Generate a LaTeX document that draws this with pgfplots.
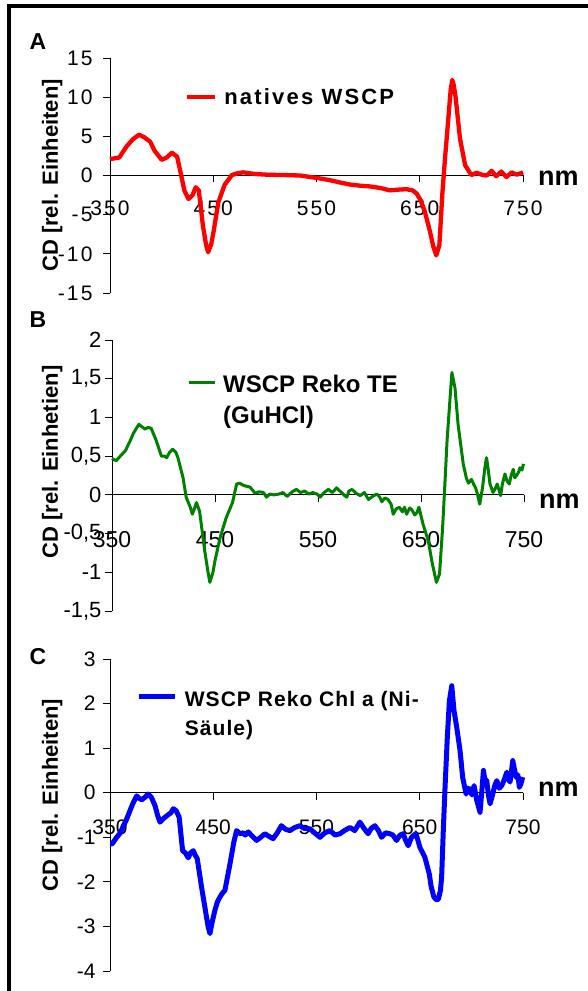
\documentclass[border=0pt]{standalone}
\usepackage{fontspec}
\setmainfont{Liberation Sans}
\newfontfamily\spacedA[LetterSpace=10]{Liberation Sans}
\newfontfamily\spacedC[LetterSpace=5]{Liberation Sans}
\usepackage{pgfplots}
\pgfplotsset{compat=1.18}
\definecolor{cdred}{RGB}{255,0,0}
\definecolor{cdgreen}{RGB}{0,128,0}
\definecolor{cdblue}{RGB}{0,0,255}
\pgfplotsset{
  cdaxis/.style={
    scale only axis,
    anchor=south west,
    xmin=350, xmax=750,
    enlargelimits=false,
    axis x line=middle, axis y line=left,
    axis line style={-, line width=0.8pt, black},
    tick align=outside,
    major tick length=7pt,
    xtick={350,450,...,750},
    hide obscured x ticks=false, hide obscured y ticks=false,
    /pgf/number format/assume math mode=true,
    /pgf/number format/use comma,
    tick style={black, line width=0.8pt},
    clip=false,
    legend style={draw=none, fill=none, inner sep=0pt, outer sep=0pt,
      legend cell align=left, column sep=7pt, nodes={inner sep=0pt}},
  }
}
\begin{document}
\begin{tikzpicture}
\useasboundingbox (0pt,0pt) rectangle (588pt,991pt);
\draw[line width=4pt] (9pt,0pt) -- (9pt,985pt) -- (588pt,985pt);
\node[font=\bfseries\fontsize{23}{23}\selectfont] at (38pt,949pt) {A};
\node[font=\bfseries\fontsize{23}{23}\selectfont] at (38pt,671pt) {B};
\node[font=\bfseries\fontsize{23}{23}\selectfont] at (38pt,334pt) {C};

% ---------------- A
\begin{axis}[cdaxis,
  at={(110pt,698pt)}, width=413pt, height=235pt,
  ymin=-15, ymax=15, ytick={-15,-10,...,15},
  x tick label style={font=\spacedA\fontsize{21}{21}\selectfont, yshift=-15pt},
  y tick label style={font=\spacedA\fontsize{21}{21}\selectfont, xshift=-7pt},
  ylabel={CD [rel. Einheiten]},
  y label style={font=\bfseries\fontsize{22}{22}\selectfont, at={(axis description cs:-0.14,0.5)}, anchor=center},
  legend style={at={(axis cs:422.6,10)}, anchor=west, font=\spacedA\bfseries\fontsize{22}{22}\selectfont},
  legend image code/.code={\draw[#1] (0pt,0pt) -- (28pt,0pt);},
]
\addplot[cdred, line width=4.3pt, line join=round] coordinates {
(350,2.1) (355,2.2) (359,2.3) (366,3.7) (372,4.6) (378,5.2) (383,4.9) (389,4.3) (393,3.2) (400,2.0) (405,2.3) (410,2.9) (415,2.4) (419,0.0) (422,-1.9) (426,-3.0) (430,-2.5) (433,-1.5) (436,-1.9) (440,-6.4) (443,-8.8) (445,-9.8) (448,-8.8) (450,-7.4) (455,-3.4) (461,-1.2) (468,0.05) (474,0.3) (479,0.4) (490,0.2) (502,0.1) (520,0.05) (534,0.0) (544,-0.2) (550,-0.3) (563,-0.6) (573,-0.9) (582,-1.15) (592,-1.3) (602,-1.4) (612,-1.6) (621,-1.9) (630,-1.8) (637,-1.75) (643,-1.9) (647,-2.3) (651,-3.2) (655,-4.65) (660,-7.2) (663,-9.0) (666,-10.2) (669,-8.9) (672,-2.1) (674.5,2.2) (677.7,7.3) (680,11) (681.5,12.2) (683,11.5) (684.8,9.9) (689,4.7) (694,1.3) (700,0.05) (705,0.35) (710,0.1) (715,0) (719.6,0.6) (724,-0.1) (729,0.5) (734,-0.2) (739,0.4) (744,0.1) (750,0.4)
};
\addlegendentry{natives WSCP}
\node[anchor=west, font=\bfseries\fontsize{27}{27}\selectfont, inner sep=0pt] at (axis cs:750,0) [xshift=15pt, yshift=-2.5pt] {nm};
\end{axis}

% ---------------- B
\begin{axis}[cdaxis,
  at={(112pt,380pt)}, width=412pt, height=271pt,
  ymin=-1.5, ymax=2, ytick={-1.5,-1,...,2},
  x tick label style={font=\fontsize{23}{23}\selectfont, yshift=-26pt},
  y tick label style={font=\fontsize{22}{22}\selectfont, xshift=0pt},
  ylabel={CD [rel. Einhetien]},
  y label style={font=\bfseries\fontsize{22}{22}\selectfont, at={(axis description cs:-0.145,0.55)}, anchor=center},
  legend style={at={(axis cs:423,1.60)}, anchor=north west, font=\bfseries\fontsize{24}{31}\selectfont},
  legend image code/.code={\draw[#1] (0pt,0pt) -- (26pt,0pt);},
]
\addplot[cdgreen, line width=3pt, line join=round] coordinates {
(350,0.47) (354,0.44) (358,0.5) (363,0.57) (367,0.68) (371,0.80) (376,0.91) (379,0.88) (382,0.85) (385,0.87) (388,0.86) (393,0.70) (398,0.50) (401,0.50) (403,0.48) (406,0.55) (409,0.59) (412,0.55) (414,0.48) (419,0.22) (422,-0.03) (426,-0.16) (428,-0.25) (430,-0.18) (432,-0.10) (435,-0.21) (440,-0.72) (443,-0.98) (445,-1.13) (448,-1.0) (450,-0.85) (455,-0.55) (461,-0.29) (467,-0.10) (471,0.14) (474,0.15) (478,0.12) (484,0.10) (489,0.02) (493,0.04) (497,0.03) (500,-0.03) (503,0.01) (507,0.0) (512,0.01) (516,0.03) (520,-0.02) (525,0.04) (529,0.07) (533,0.03) (537,0.05) (541,0.01) (545,0.03) (549,0.01) (552,-0.03) (556,0.03) (560,0.07) (564,0.03) (568,0.09) (572,0.04) (575,0.0) (578,-0.03) (580,0.05) (583,0.07) (587,0.02) (591,-0.01) (595,0.03) (599,-0.06) (603,-0.02) (607,0.01) (610,-0.03) (612,-0.09) (615,-0.04) (618,-0.06) (621,-0.12) (623,-0.25) (626,-0.18) (629,-0.16) (632,-0.22) (634,-0.16) (636,-0.25) (639,-0.17) (641,-0.19) (644,-0.26) (646,-0.23) (648,-0.16) (652,-0.38) (657,-0.59) (661,-0.89) (665,-1.13) (668,-1.02) (671,-0.42) (673,0.09) (675.3,0.70) (678,1.21) (680,1.58) (683,1.38) (686,0.91) (691,0.40) (694,0.22) (696,0.15) (699,0.20) (701,0.14) (703,0.09) (705,0.0) (707,-0.12) (709.7,0.09) (712,0.35) (713.6,0.48) (715,0.35) (717,0.14) (720,0.03) (722,0.08) (724,0.14) (726,0.05) (727.3,-0.01) (729,0.14) (731.5,0.27) (733.5,0.18) (735.7,0.14) (737.5,0.25) (739.6,0.33) (741,0.22) (742.8,0.25) (745,0.30) (746,0.35) (748,0.32) (749.5,0.40)
};
\addlegendentry{\begin{tabular}[t]{@{}l@{}}WSCP Reko TE\\(GuHCl)\end{tabular}}
\node[anchor=west, font=\bfseries\fontsize{27}{27}\selectfont, inner sep=0pt] at (axis cs:750,0) [xshift=15pt, yshift=-6pt] {nm};
\end{axis}

% ---------------- C
\begin{axis}[cdaxis,
  at={(110pt,20pt)}, width=413pt, height=312pt,
  ymin=-4, ymax=3, ytick={-4,-3,...,3},
  x tick label style={font=\fontsize{21}{21}\selectfont, yshift=-16.5pt},
  y tick label style={font=\fontsize{21}{21}\selectfont, xshift=-4pt},
  ylabel={CD [rel. Einheiten]},
  y label style={font=\bfseries\fontsize{22}{22}\selectfont, at={(axis description cs:-0.14,0.564)}, anchor=center},
  legend style={at={(axis cs:376,2.4)}, anchor=north west, font=\spacedC\bfseries\fontsize{21}{29}\selectfont},
  legend image code/.code={\draw[#1] (0pt,0pt) -- (36pt,0pt);},
]
\addplot[cdblue, line width=5pt, line join=round] coordinates {
(350,-1.15) (352,-1.15) (356.5,-1.0) (360,-0.9) (363,-0.74) (366,-0.6) (369.4,-0.40) (372,-0.25) (375.8,-0.07) (378,-0.12) (380.7,-0.16) (384,-0.1) (387,-0.03) (390,-0.1) (393.6,-0.29) (396,-0.5) (398.4,-0.66) (401,-0.6) (403.3,-0.55) (406,-0.5) (409,-0.45) (411.3,-0.36) (414,-0.4) (417,-0.55) (420.3,-1.30) (423,-1.35) (425.8,-1.46) (428,-1.35) (430.7,-1.30) (432.5,-1.4) (434.5,-1.48) (438.7,-2.12) (442.9,-2.71) (445,-3.0) (446.8,-3.16) (449,-2.9) (451.6,-2.64) (454,-2.45) (456.5,-2.34) (459,-2.25) (461.3,-2.19) (466.2,-1.60) (470,-1.1) (472.6,-0.85) (476,-0.92) (479,-0.90) (481,-0.95) (483.9,-0.88) (488,-0.98) (492,-1.07) (496,-1.0) (500,-0.92) (504,-0.98) (508,-1.03) (512,-0.9) (516,-0.74) (520,-0.82) (524.2,-0.85) (529,-0.78) (533.9,-0.74) (538,-0.8) (543.6,-0.81) (548,-0.9) (553.4,-1.0) (558,-0.9) (563,-0.85) (568,-0.95) (572.8,-0.92) (577,-0.85) (582.4,-0.78) (587,-0.85) (592,-0.66) (596,-0.8) (600,-0.92) (603,-0.8) (606.5,-0.74) (610,-0.85) (613,-1.0) (617,-0.9) (621,-0.92) (624,-0.95) (627.5,-1.07) (631,-0.95) (634,-0.92) (636,-1.05) (638.8,-1.19) (642,-1.0) (646.2,-0.92) (648,-1.05) (650.2,-1.23) (655,-1.45) (659.2,-1.82) (661,-2.1) (663.7,-2.34) (666,-2.4) (668,-2.39) (670,-2.2) (671.2,-1.90) (672.8,-0.85) (674.5,0.12) (676.7,1.24) (678.7,2.06) (681,2.40) (683.2,1.84) (685.8,1.47) (689,0.95) (691.6,0.34) (694.9,-0.03) (696.5,0.1) (698.7,0.08) (700.5,-0.05) (702.6,0.16) (705.2,-0.17) (708.4,-0.44) (710,0.0) (711.7,0.50) (713,0.3) (714.9,0.27) (716.5,-0.05) (718.1,-0.25) (720.7,-0.03) (722.5,0.15) (724.6,0.27) (727,0.1) (729.4,0.16) (732,0.3) (734.3,0.46) (736,0.3) (737.5,0.24) (740.1,0.72) (741.5,0.55) (743.3,0.35) (745,0.4) (746.5,0.12) (748,0.2) (749.7,0.35)
};
\addlegendentry{\begin{tabular}[t]{@{}l@{}}WSCP Reko Chl a (Ni-\\Säule)\end{tabular}}
\node[anchor=west, font=\bfseries\fontsize{27}{27}\selectfont, inner sep=0pt] at (axis cs:750,0) [xshift=15pt, yshift=3.5pt] {nm};
\end{axis}
\end{tikzpicture}
\end{document}
